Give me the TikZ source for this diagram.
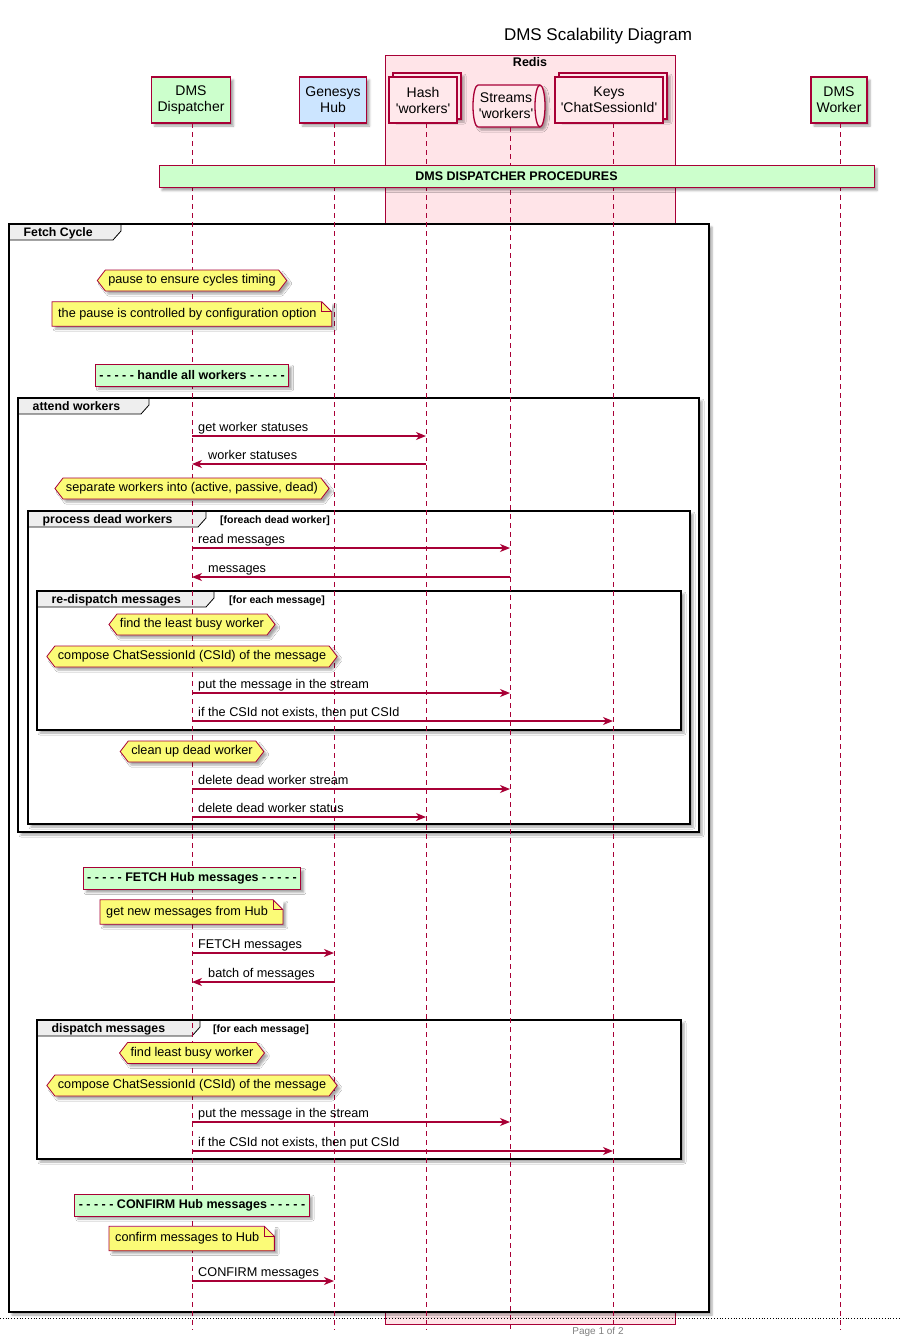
\documentclass[tikz,border=0pt]{standalone}
\usepackage{fontspec}
\setmainfont{Liberation Sans}
\newfontfamily\pfont{Liberation Sans}
\usetikzlibrary{arrows.meta,shapes.symbols,shadows.blur}
\definecolor{pr}{HTML}{A80036}
\definecolor{pgreen}{HTML}{CCFFCC}
\definecolor{pblue}{HTML}{CCE5FF}
\definecolor{rpink}{HTML}{FFE4E8}
\definecolor{npink}{HTML}{FFE8EB}
\definecolor{nyellow}{HTML}{FBFB77}
\definecolor{tabgray}{HTML}{EEEEEE}
\tikzset{
 shd/.style={blur shadow={shadow xshift=3pt,shadow yshift=-3pt,shadow blur steps=4,shadow blur radius=2pt,shadow opacity=35}},
 part/.style={draw=pr,line width=1.3pt,minimum height=46pt,align=center,font=\pfont\fontsize{14}{16}\selectfont,inner sep=2pt},
 life/.style={draw=pr,dash pattern=on 5pt off 4pt,line width=0.9pt},
 msg/.style={draw=pr,line width=1.3pt,-{Stealth[length=10pt,width=8pt,inset=3pt]}},
 mlab/.style={font=\fontsize{12.7}{14}\selectfont,inner sep=0pt,anchor=base west},
 hexnote/.style={shape=signal,signal to=west and east,signal pointer angle=105,fill=nyellow,draw=pr,line width=0.8pt,font=\fontsize{12.7}{14}\selectfont,minimum height=21pt,inner xsep=3pt,inner ysep=0pt,shd},
 sepbox/.style={fill=pgreen,draw=pr,line width=0.8pt,minimum height=22pt,inner xsep=4pt,inner ysep=0pt,font=\bfseries\fontsize{12.5}{14}\selectfont,shd},
 notetext/.style={font=\fontsize{12.7}{14}\selectfont,minimum height=24pt,inner xsep=0pt,inner ysep=0pt,anchor=west,fill=nyellow,shd},
 noteline/.style={draw=pr,line width=0.8pt},
 frm/.style={draw=black,line width=1.6pt},
 ftab/.style={draw=black,line width=0.8pt,fill=tabgray},
 flab/.style={font=\bfseries\fontsize{12.3}{14}\selectfont,anchor=base west,inner sep=0pt},
 fcond/.style={font=\bfseries\fontsize{10.5}{12}\selectfont,anchor=base west,inner sep=0pt},
}
\newcommand\seqframe[9]{%
 \fill[white,shd] (#2,#3) rectangle (#4,#5);
 \draw[ftab] (#2,#3) -- (#6,#3) -- (#6,#3+7) -- (#6-8,#3+16) -- (#2,#3+16) -- cycle;
 \draw[frm] (#2,#3) rectangle (#4,#5);
 \node[flab] (#1) at (#2+14.5,#3+12) {#7};
 \node[fcond] (#1c) at (#8,#3+12) {#9};
}
\newcommand\foldnote[4]{%
 \node[notetext] (#1) at (#2,#3) {\kern6pt#4\kern15pt\relax};
 \fill[white] ([xshift=-10pt]#1.north east) -- ([xshift=0.5pt,yshift=0.5pt]#1.north east) -- ([yshift=-10pt]#1.north east) -- cycle;
 \draw[noteline] (#1.north west) -- ([xshift=-10pt]#1.north east) -- ([yshift=-10pt]#1.north east) -- (#1.south east) -- (#1.south west) -- cycle;
 \draw[noteline] ([xshift=-10pt]#1.north east) -- ([xshift=-10pt,yshift=-10pt]#1.north east) -- ([yshift=-10pt]#1.north east);
}
\begin{document}
\begin{tikzpicture}[x=1pt,y=-1pt]
\useasboundingbox (0,0) rectangle (900,1342);
% title
\node[font=\fontsize{17}{19}\selectfont] (title) at (598,36) {DMS Scalability Diagram};
% Redis box
\filldraw[fill=rpink,draw=pr,line width=0.8pt] (385,55) rectangle (675,1324);
\node[font=\bfseries\fontsize{12.5}{14}\selectfont] (redis) at (530,62) {Redis};
% participants
\node[part,fill=pgreen,minimum width=79pt,shd] (dsp) at (191,100) {DMS\\Dispatcher};
\node[part,fill=pblue,minimum width=67pt,shd] (hub) at (333,100) {Genesys\\Hub};
\filldraw[fill=npink,draw=pr,line width=1.3pt,shd] (393,73) rectangle (461,119);
\node[part,fill=npink,minimum width=68pt] (hash) at (423,100) {Hash\\'workers'};
\filldraw[fill=npink,draw=pr,line width=1.3pt,shd] (559,73) rectangle (667,119);
\node[part,fill=npink,minimum width=108pt] (keys) at (609,100) {Keys\\'ChatSessionId'};
\filldraw[fill=npink,draw=pr,line width=1.3pt,shd] (478,85) -- (540,85) arc[start angle=270,end angle=450,x radius=5,y radius=21] -- (478,127) arc[start angle=90,end angle=270,x radius=5,y radius=21] -- cycle;
\draw[pr,line width=1.3pt] (540,85) arc[start angle=270,end angle=90,x radius=5,y radius=21];
\node[align=center,font=\pfont\fontsize{14}{16}\selectfont,inner sep=0pt] (streams) at (506,106) {Streams\\'workers'};
\node[part,fill=pgreen,minimum width=56pt,shd] (wrk) at (839,100) {DMS\\Worker};
% lifeline coordinates
\coordinate (lD) at (192,123);
\coordinate (lG) at (334,123);
\coordinate (lH) at (426,123);
\coordinate (lS) at (510,127);
\coordinate (lK) at (613,123);
\coordinate (lW) at (840,123);
% frames
\seqframe{fetch}{9}{224}{709}{1312}{121}{Fetch Cycle}{130}{}
\seqframe{attend}{18}{398}{699}{832}{149}{attend workers}{160}{}
\seqframe{dead}{28}{511}{690}{824}{206}{process dead workers}{220}{[foreach dead worker]}
\seqframe{redisp}{37}{591}{681}{730}{214}{re-dispatch messages}{229}{[for each message]}
\seqframe{disp}{37}{1020}{681}{1159}{200}{dispatch messages}{213}{[for each message]}
% lifelines
\foreach \l in {lD,lG,lH,lS,lK,lW}{\draw[life] (\l) -- (\l |- 0,1330);}
% procedures bar
\node[sepbox,minimum width=715pt] (bar) at (516.5,176.5) {DMS DISPATCHER PROCEDURES};
% notes
\node[hexnote] (h1) at (192,280.5) {pause to ensure cycles timing};
\foldnote{n1}{52}{314}{the pause is controlled by configuration option}
\node[sepbox] (s1) at (192,375) {- - - - - handle all workers - - - - -};
% messages
\draw[msg] (lD |- 0,436) -- (lH |- 0,436);
\node[mlab] (m1) at (198,431) {get worker statuses};
\draw[msg] (lH |- 0,464) -- (lD |- 0,464);
\node[mlab] (m2) at (208,459) {worker statuses};
\node[hexnote] (h2) at (192,488.5) {separate workers into (active, passive, dead)};
\draw[msg] (lD |- 0,548) -- (lS |- 0,548);
\node[mlab] (m3) at (198,543) {read messages};
\draw[msg] (lS |- 0,577) -- (lD |- 0,577);
\node[mlab] (m4) at (208,572) {messages};
\node[hexnote] (h3) at (192,624.5) {find the least busy worker};
\node[hexnote] (h4) at (192,656.5) {compose ChatSessionId (CSId) of the message};
\draw[msg] (lD |- 0,693) -- (lS |- 0,693);
\node[mlab] (m5) at (198,688) {put the message in the stream};
\draw[msg] (lD |- 0,721) -- (lK |- 0,721);
\node[mlab] (m6) at (198,716) {if the CSId not exists, then put CSId};
\node[hexnote] (h5) at (192,751.5) {clean up dead worker};
\draw[msg] (lD |- 0,789) -- (lS |- 0,789);
\node[mlab] (m7) at (198,784) {delete dead worker stream};
\draw[msg] (lD |- 0,817) -- (lH |- 0,817);
\node[mlab] (m8) at (198,812) {delete dead worker status};
\node[sepbox] (s2) at (192,878.5) {- - - - - FETCH Hub messages - - - - -};
\foldnote{n2}{100}{912}{get new messages from Hub}
\draw[msg] (lD |- 0,953) -- (lG |- 0,953);
\node[mlab] (m9) at (198,948) {FETCH messages};
\draw[msg] (lG |- 0,982) -- (lD |- 0,982);
\node[mlab] (m10) at (208,977) {batch of messages};
\node[hexnote] (h6) at (192,1053) {find least busy worker};
\node[hexnote] (h7) at (192,1085.5) {compose ChatSessionId (CSId) of the message};
\draw[msg] (lD |- 0,1122) -- (lS |- 0,1122);
\node[mlab] (m11) at (198,1117) {put the message in the stream};
\draw[msg] (lD |- 0,1151) -- (lK |- 0,1151);
\node[mlab] (m12) at (198,1146) {if the CSId not exists, then put CSId};
\node[sepbox] (s3) at (192,1205) {- - - - - CONFIRM Hub messages - - - - -};
\foldnote{n3}{109}{1238.5}{confirm messages to Hub}
\draw[msg] (lD |- 0,1281) -- (lG |- 0,1281);
\node[mlab] (m13) at (198,1276) {CONFIRM messages};
% footer
\draw[black,line width=0.8pt,dotted] (0,1318) -- (900,1318);
\node[text=gray,font=\fontsize{10}{12}\selectfont] (page) at (598,1332) {Page 1 of 2};
\end{tikzpicture}
\end{document}
